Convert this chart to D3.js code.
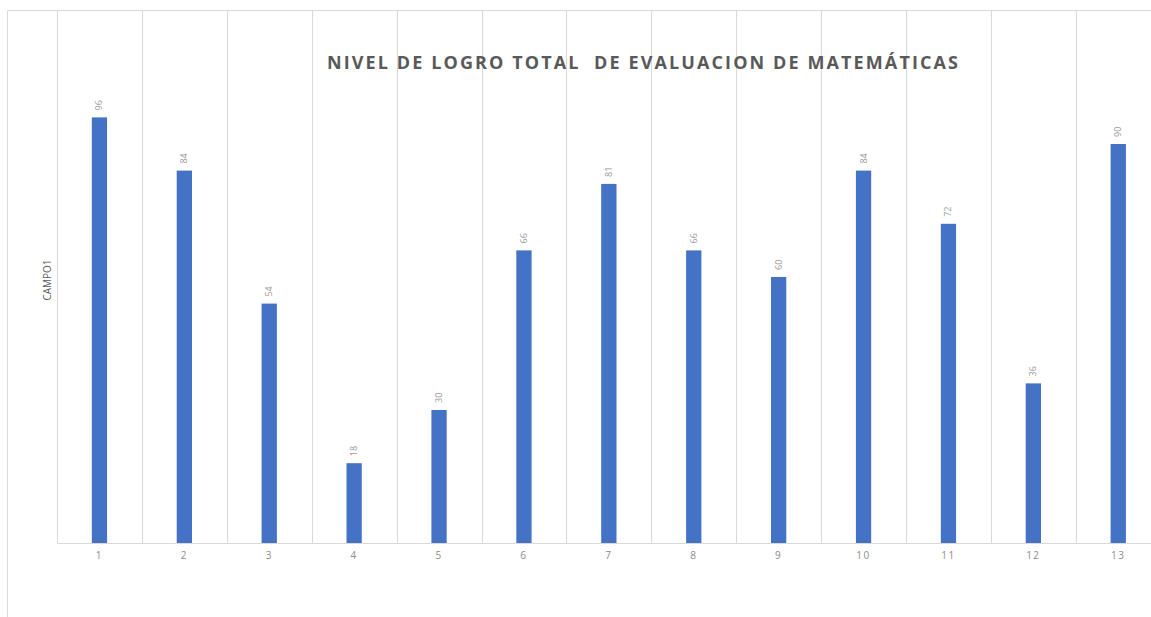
<!DOCTYPE html>
<html lang="es">
<head>
    <meta charset="UTF-8">
    <title>Nivel de logro</title>
    <script src="https://d3js.org/d3.v7.min.js"></script>
    <style>
        body { margin: 0; background: #fff; }
        text { font-family: 'Open Sans', 'Liberation Sans', sans-serif; }
        .tick text { fill: #8c8c8c; font-size: 10px; letter-spacing: 1.5px; }
        .lbl { fill: #9a9a9a; font-size: 9px; }
    </style>
</head>
<body>
<script>
    const width  = 1151;
    const height = 617;

    const categories = ["1","2","3","4","5","6","7","8","9","10","11","12","13"];
    const values     = [96, 84, 54, 18, 30, 66, 81, 66, 60, 84, 72, 36, 90];
    const title = "NIVEL DE LOGRO TOTAL  DE EVALUACION DE MATEMÁTICAS";

    const plotLeft = 57, bandW = 84.9, plotTop = 11, plotBottom = 543;

    const svg = d3.select("body").append("svg")
        .attr("width", width).attr("height", height);

    // chart frame (cropped on right and bottom)
    svg.append("path")
        .attr("d", `M7.5,${height} V10.5 H${width}`)
        .attr("fill", "none").attr("stroke", "#d9d9d9");

    const x = d3.scaleBand()
        .domain(categories)
        .range([plotLeft, plotLeft + bandW * categories.length])
        .paddingInner(0.82).paddingOuter(0.41);

    const xg = d3.scaleBand().domain(categories)
        .range([plotLeft, plotLeft + bandW * categories.length]);

    const y = d3.scaleLinear().domain([0, 120]).range([plotBottom, plotTop]);

    // vertical gridlines at band edges
    svg.append("g").selectAll("line")
        .data(categories.concat(["end"])).enter()
        .append("line")
        .attr("x1", (d, i) => Math.round(plotLeft + i * xg.bandwidth()) + 0.5)
        .attr("x2", (d, i) => Math.round(plotLeft + i * xg.bandwidth()) + 0.5)
        .attr("y1", plotTop).attr("y2", plotBottom)
        .attr("stroke", "#d9d9d9");

    svg.selectAll("rect.bar")
        .data(values).enter()
        .append("rect").attr("class", "bar")
        .attr("x", (d, i) => x(categories[i]))
        .attr("width", x.bandwidth())
        .attr("y", d => y(d))
        .attr("height", d => y(0) - y(d))
        .attr("fill", "#4472c4");

    svg.selectAll("text.lbl")
        .data(values).enter()
        .append("text").attr("class", "lbl")
        .attr("transform", (d, i) =>
            `translate(${x(categories[i]) + x.bandwidth() / 2 + 3},${y(d) - 7}) rotate(-90)`)
        .attr("text-anchor", "start")
        .text(d => d);

    // x axis
    const axis = svg.append("g")
        .attr("transform", `translate(0,${plotBottom})`)
        .call(d3.axisBottom(xg).tickSize(0).tickPadding(9));
    axis.select(".domain").attr("stroke", "#d9d9d9");

    // y axis title
    svg.append("text")
        .attr("transform", `translate(51,280) rotate(-90)`)
        .attr("text-anchor", "middle")
        .attr("fill", "#595959")
        .style("font-size", "10px")
        .text("CAMPO1");

    // chart title
    svg.append("text")
        .attr("x", 327).attr("y", 69)
        .attr("textLength", 631)
        .attr("lengthAdjust", "spacing")
        .attr("fill", "#595959")
        .style("font-size", "18px")
        .style("font-weight", "bold")
        .style("white-space", "pre")
        .text(title);
</script>
</body>
</html>
